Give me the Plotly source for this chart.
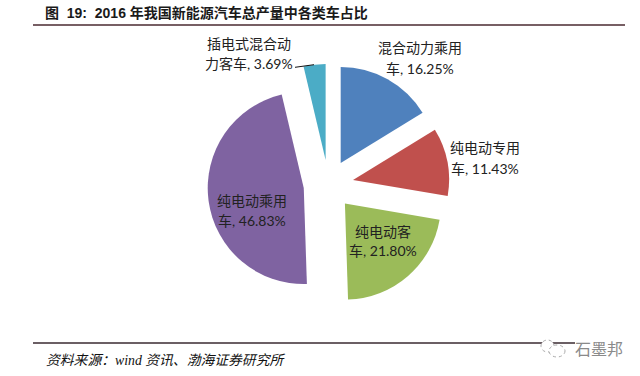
import plotly.graph_objects as go

W, H = 640, 376
categories = ["混合动力乘用车", "纯电动专用车", "纯电动客车", "纯电动乘用车", "插电式混合动力客车"]
shares = [16.25, 11.43, 21.80, 46.83, 3.69]
colors = ["#4F81BD", "#C0504D", "#9BBB59", "#7F63A1", "#4BACC6"]
pull_amount = 0.26
title = "图  19:  2016 年我国新能源汽车总产量中各类车占比"
source = "资料来源：wind 资讯、渤海证券研究所"
watermark = "石墨邦"
label_lines = [
    ("混合动力乘用", "车, 16.25%", 420, 47, 68),
    ("纯电动专用", "车, 11.43%", 485, 147, 168),
    ("纯电动客", "车, 21.80%", 383, 231, 251),
    ("纯电动乘用", "车, 46.83%", 252, 200, 220),
    ("插电式混合动", "力客车, 3.69%", 249, 43, 63),
]

cx, cy, half = 328.5, 184.75, 121
CJK = "Noto Sans CJK SC"

fig = go.Figure(go.Pie(
    labels=categories, values=shares, sort=False, direction="clockwise", rotation=0,
    pull=[pull_amount] * 5, marker=dict(colors=colors, line=dict(width=0)),
    textinfo="none", hoverinfo="label+percent", showlegend=False,
    domain=dict(x=[(cx - half) / W, (cx + half) / W], y=[1 - (cy + half) / H, 1 - (cy - half) / H]),
))

def note(text, x, y, size, color="#222222", xanchor="center", family="Lato, " + CJK):
    fig.add_annotation(text=text, x=x / W, y=1 - y / H, xref="paper", yref="paper", showarrow=False,
                       xanchor=xanchor, yanchor="middle",
                       font=dict(family=family, size=size, color=color))

for l1, l2, x, y1, y2 in label_lines:
    note(l1, x, y1, 14)
    note(l2, x, y2, 14)

note("<b>" + title + "</b>", 43, 13, 14, color="#1a1a1a", xanchor="left", family="Liberation Sans, " + CJK)
note("<i>" + source + "</i>", 44, 360, 13.8, color="#111111", xanchor="left", family="Liberation Serif, " + CJK)
note(watermark, 599, 348, 16, color="#8a8a8a", family=CJK)

def seg(x0, y0, x1, y1, color, width, dash="solid"):
    fig.add_shape(type="line", x0=x0 / W, x1=x1 / W, y0=1 - y0 / H, y1=1 - y1 / H, xref="paper", yref="paper",
                  line=dict(color=color, width=width, dash=dash))

seg(33, 25, 625, 25, "#4a2a30", 1.5)
seg(33, 343, 575, 343, "#3a2a30", 1.5)
seg(295, 67.3, 314, 64.7, "#111111", 1)

for (x0, y0, x1, y1) in [(541, 340, 554, 352), (549, 345, 565, 357)]:
    fig.add_shape(type="circle", x0=x0 / W, x1=x1 / W, y0=1 - y0 / H, y1=1 - y1 / H, xref="paper", yref="paper",
                  fillcolor="white", line=dict(color="#aaaaaa", width=1, dash="dot"))

fig.update_layout(width=W, height=H, margin=dict(l=0, r=0, t=0, b=0), paper_bgcolor="white", plot_bgcolor="white",
                  font=dict(family=CJK))
fig.write_html("out.html", config={"displayModeBar": False}, post_script="document.body.style.margin='0';")
